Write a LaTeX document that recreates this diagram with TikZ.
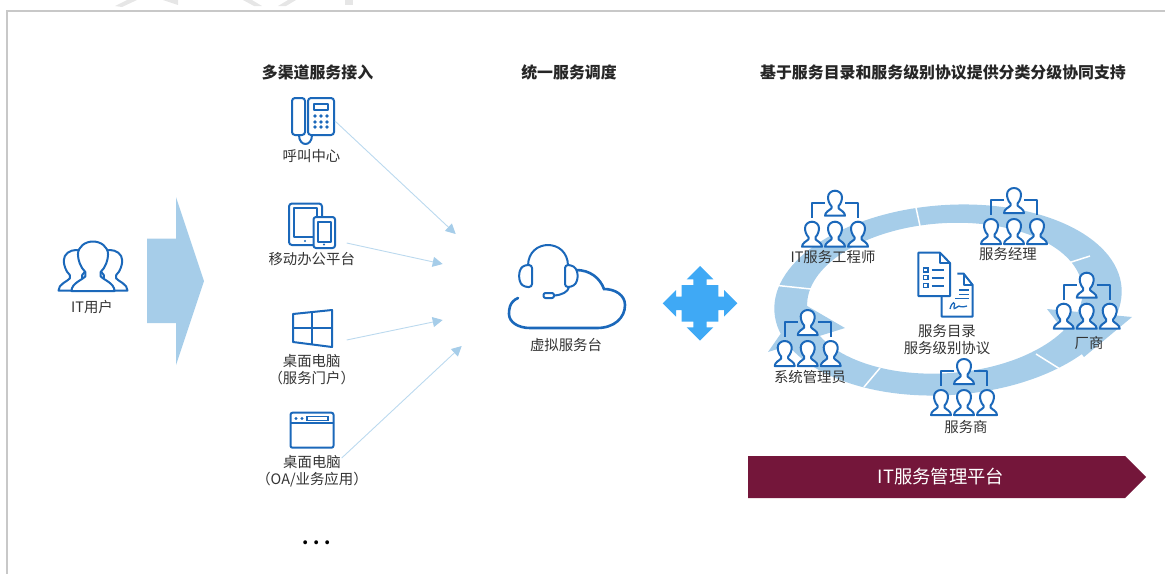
\documentclass[tikz,border=0pt]{standalone}
\usepackage{fontspec}
\setmainfont{Noto Sans CJK SC}
\usepackage{xcolor}
\usetikzlibrary{arrows.meta,positioning}
\definecolor{iconblue}{HTML}{1B68BA}
\definecolor{palearrow}{HTML}{A6CDE9}
\definecolor{paleline}{HTML}{BBD9EE}
\definecolor{hubblue}{HTML}{3FA9F5}
\definecolor{platformred}{HTML}{74163A}
\definecolor{captiongray}{HTML}{333333}
\definecolor{framegray}{HTML}{C8C8C8}
\definecolor{markgray}{HTML}{E6E6E6}

\begin{document}
\begin{tikzpicture}[
    x=1pt, y=-1pt,
    heading/.style={font=\fontsize{15.9}{18}\selectfont\bfseries, text=black!85, inner sep=0pt},
    caption/.style={font=\fontsize{14.4}{17}\selectfont, text=captiongray, inner sep=0pt, align=center},
    iconbox/.style={inner sep=0pt, outer sep=0pt},
    iconline/.style={draw=iconblue, line width=2pt, line join=round},
    channel/.style={draw=paleline, line width=0.9pt, -{Triangle[length=10pt,width=10pt,color=palearrow]}},
    person/.pic={
        \path[iconline, fill=white] (-10,25) -- (10,25) .. controls (10,21) and (5,19.5) .. (3.5,17.5)
            -- (3.5,15.5) .. controls (6,13) and (7,9) .. (7,6.5) .. controls (7,2.5) and (3.5,0) .. (0,0)
            .. controls (-3.5,0) and (-7,2.5) .. (-7,6.5) .. controls (-7,9) and (-6,13) .. (-3.5,15.5)
            -- (-3.5,17.5) .. controls (-5,19.5) and (-10,21) .. (-10,25) -- cycle;
    },
    team/.pic={
        \draw[iconline] (-10,12) -- (-23,12) -- (-23,27);
        \draw[iconline] (10,12) -- (23,12) -- (23,27);
        \pic at (0,0) {person};
        \pic at (-23,31) {person};
        \pic at (0,31) {person};
        \pic at (23,31) {person};
    }
]
\useasboundingbox (0,0) rectangle (1165,574);

% Frame and the cut-off mark above it
\fill[markgray] (115,6) -- (127,0) -- (137,0) -- (122,7) -- cycle;
\fill[markgray] (163,0) -- (178,0) -- (178,5) -- cycle;
\fill[markgray] (243,0) -- (252,0) -- (262,6) -- (254,6) -- cycle;
\fill[markgray] (278,6) -- (288,0) -- (296,0) -- (286,6) -- cycle;
\fill[markgray] (345,0) -- (353,0) -- (353,5) -- (345,5) -- cycle;
\draw[framegray, line width=2pt] (1165,11) -- (7,11) -- (7,574);

% Headings
\node[heading] (headchannel) at (317.5,72) {多渠道服务接入};
\node[heading] (headdesk) at (569,72) {统一服务调度};
\node[heading] (headsupport) at (943,72) {基于服务目录和服务级别协议提供分类分级协同支持};

% IT users and the big arrow
\pic[xscale=1.75, yscale=1.62] at (76,250) {person};
\pic[xscale=1.75, yscale=1.62] at (110,250) {person};
\pic[xscale=2.15, yscale=1.98] at (93,241.5) {person};
\node[caption] (users) at (92,307) {IT用户};
\fill[palearrow] (147,238.5) -- (176,238.5) -- (176,197) -- (204,281) -- (176,365) -- (176,323) -- (147,323) -- cycle;

% Channel icons
\node[iconbox, minimum width=44pt, minimum height=48pt] (phone) at (313,121) {};
\draw[iconline, rounded corners=3pt] (292,98) rectangle (305,135);
\draw[iconline, rounded corners=3pt] (308,98) rectangle (334,135);
\draw[iconline] (314,104) rectangle (328,110);
\foreach \px in {315,321,327}
    \foreach \py in {116,122,127}
        \fill[iconblue] (\px,\py) circle (1.9pt);
\draw[iconline] (299,135) .. controls (299,147) and (312,147) .. (312,135);
\node[caption] (phonetext) at (311.5,156.5) {呼叫中心};

\node[iconbox, minimum width=47pt, minimum height=46pt] (mobile) at (312.5,226) {};
\draw[iconline, rounded corners=3pt] (289,203.5) rectangle (322,245);
\draw[iconline] (293.5,207.5) rectangle (317,237);
\fill[iconblue] (305,241) circle (1.2pt);
\draw[iconline, fill=white, rounded corners=2.5pt] (313.5,217) rectangle (335,248);
\draw[iconline] (317.5,221.5) rectangle (331,241.5);
\fill[iconblue] (324,244.5) circle (1.2pt);
\node[caption] (mobiletext) at (311.7,259.5) {移动办公平台};

\node[iconbox, minimum width=39pt, minimum height=37pt] (windows) at (312.5,328.5) {};
\draw[iconline] (293,314) -- (332,310) -- (332,347) -- (293,342) -- cycle;
\draw[iconline] (312,312) -- (312,344.5);
\draw[iconline] (293,328) -- (332,328);
\node[caption] (windowstext) at (311.7,370) {桌面电脑\\（服务门户）};

\node[iconbox, minimum width=44pt, minimum height=35pt] (browser) at (312,430.2) {};
\draw[iconline, rounded corners=2pt] (290.5,412.7) rectangle (333.5,447.7);
\draw[iconline] (290.5,423) -- (333.5,423);
\fill[iconblue] (296,418.5) circle (1.6pt);
\fill[iconblue] (302,418.5) circle (1.6pt);
\draw[iconblue, line width=1.2pt] (307,416.5) rectangle (328,420.5);
\node[caption] (browsertext) at (312,471.5) {桌面电脑\\（OA/业务应用）};

\node[font=\fontsize{18}{18}\selectfont\bfseries, text=black, inner sep=0pt] (moredots) at (316.5,543) {.\kern5pt.\kern5pt.};

% Virtual service desk
\node[iconbox, minimum width=116pt, minimum height=84pt] (desk) at (567,287) {};
\draw[iconblue, line width=2.6pt, line cap=round] (518,298) .. controls (509,302) and (509,310) .. (509,314)
    .. controls (509,322) and (518,328) .. (530,328) -- (597,328)
    .. controls (614,328) and (625,318) .. (625,305) .. controls (625,295) and (615,289) .. (604,289)
    .. controls (600,278) and (590,270) .. (576,270);
\draw[iconline] (528,266) .. controls (528,238) and (568,238) .. (568,266);
\draw[iconline, rounded corners=3pt, fill=white] (532,265) -- (525,265) .. controls (518,270) and (518,282) .. (525,287) -- (532,287) -- cycle;
\draw[iconline, rounded corners=3pt, fill=white] (565,265) -- (571,265) .. controls (579,270) and (579,282) .. (571,287) -- (565,287) -- cycle;
\draw[iconline] (569,287) .. controls (568,292) and (562,295) .. (554,295.5);
\draw[iconline, rounded corners=2pt] (543.5,293) rectangle (554,298);
\node[caption] (desktext) at (566,345) {虚拟服务台};

% Four way arrow
\fill[hubblue] (700,266) -- (713.3,279.3) -- (706.7,279.3) -- (706.7,285) -- (718.3,285) -- (718.3,296.6) -- (724,296.6) -- (724,290)
    -- (737.3,303.3) -- (724,316.6) -- (724,310) -- (718.3,310) -- (718.3,321.6) -- (706.7,321.6) -- (706.7,327.3) -- (713.3,327.3)
    -- (700,340.6) -- (686.7,327.3) -- (693.3,327.3) -- (693.3,321.6) -- (681.7,321.6) -- (681.7,310) -- (676,310) -- (676,316.6)
    -- (662.7,303.3) -- (676,290) -- (676,296.6) -- (681.7,296.6) -- (681.7,285) -- (693.3,285) -- (693.3,279.3) -- (686.7,279.3) -- cycle;

% Ring of support teams
\fill[palearrow, even odd rule, shift={(948,300)}, rotate=4] (0,0) ellipse [x radius=174, y radius=95] (-3,-2) ellipse [x radius=138, y radius=75];
\fill[palearrow] (1047,309) -- (1132,317) -- (1084,357) -- cycle;
\fill[palearrow] (768,352) -- (845,328) -- (802,303) -- cycle;
\draw[white, line width=1.5pt] (915,203) -- (920,226);
\draw[white, line width=1.5pt] (1059,266) -- (1090,256);
\draw[white, line width=1.5pt] (1036,354) -- (1060,369);
\draw[white, line width=1.5pt] (864,387) -- (880,368);
\draw[white, line width=1.5pt] (773,285) -- (811,289);

\pic at (835,190.7) {team};
\node[caption] (engineertext) at (833,257) {IT服务工程师};
\pic at (1014,188) {team};
\node[caption] (managertext) at (1008,254) {服务经理};
\pic at (1086.7,272.7) {team};
\node[caption] (vendortext) at (1089,343) {厂商};
\pic at (807.7,310) {team};
\node[caption] (admintext) at (810,377) {系统管理员};
\pic at (964,359) {team};
\node[caption] (providertext) at (966,427) {服务商};

% Documents in the middle
\draw[iconline, fill=white] (957.3,273.5) -- (963.5,273.5) -- (972.7,285) -- (972.7,316.5) -- (941.7,316.5) -- (941.7,296);
\draw[iconline] (963.5,273.5) -- (963.5,285) -- (972.7,285);
\draw[iconblue, line width=1.2pt] (959,290) -- (969,290) (959,294.3) -- (969,294.3) (955,298.5) -- (969,298.5);
\draw[iconblue, line width=1.3pt] (950,309) .. controls (952,301) and (956,301) .. (954,307) .. controls (953,311) and (958,306) .. (959,306) .. controls (960,306) and (960,308) .. (967,306);
\draw[iconline, fill=white] (918.3,252.7) -- (940,252.7) -- (950,263) -- (950,296) -- (918.3,296) -- cycle;
\draw[iconline] (940,252.7) -- (940,263) -- (950,263);
\foreach \ly in {270,277.5,285.5} {
    \draw[iconblue, line width=1.2pt] (923.5,\ly-2) rectangle (928,\ly+2);
    \draw[iconline] (931.5,\ly) -- (944,\ly);
}
\node[caption] (catalogtext) at (947,339.5) {服务目录\\服务级别协议};

% Platform banner
\fill[platformred] (748,456) -- (1125,456) -- (1146,477) -- (1125,498) -- (748,498) -- cycle;
\node[font=\fontsize{18.3}{20}\selectfont, text=white, inner sep=0pt] (platform) at (941,477) {IT服务管理平台};

% Channels into the desk
\coordinate (hubA) at (455.7,234);
\coordinate (hubB) at (442.7,264);
\coordinate (hubC) at (442.7,320);
\coordinate (hubD) at (461.7,346);
\draw[channel] (phone.east) -- (hubA);
\draw[channel] ([shift={(10.7,-6)}]mobile.south east) -- (hubB);
\draw[channel] ([shift={(14.7,11.5)}]windows.east) -- (hubC);
\draw[channel] ([shift={(7.7,10.3)}]browser.south east) -- (hubD);

\end{tikzpicture}
\end{document}
